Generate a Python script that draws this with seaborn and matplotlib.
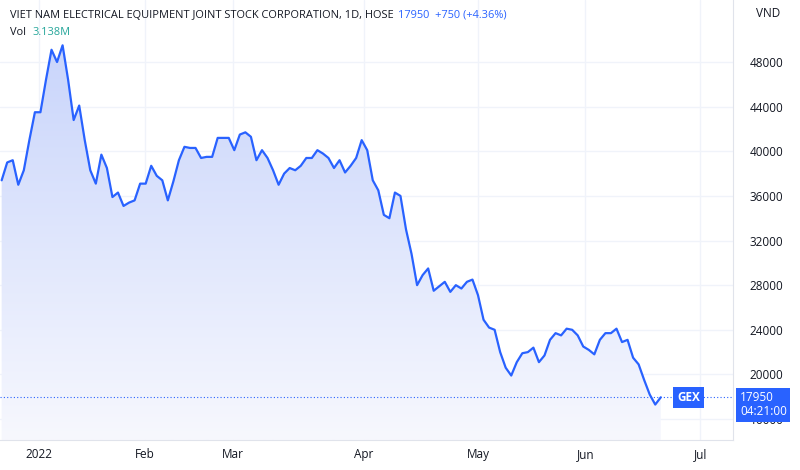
import numpy as np
import pandas as pd
import matplotlib
matplotlib.use("Agg")
import matplotlib.pyplot as plt
import seaborn as sns
from matplotlib.patches import Polygon

prices = [37400, 39000, 39200, 37000, 38300, 41000, 43500, 43500, 46400, 49100, 48000, 49500,
          46400, 42800, 44100, 41000, 38300, 37100, 39700, 38500, 35900, 36300, 35100, 35400,
          35600, 37100, 37100, 38700, 37800, 37400, 35600, 37300, 39200, 40400, 40300, 40300,
          39400, 39500, 39500, 41200, 41200, 41200, 40100, 41500, 41700, 41300, 39200, 40100,
          39400, 38300, 37000, 38000, 38500, 38300, 38700, 39400, 39400, 40100, 39800, 39400,
          38500, 39200, 38100, 38700, 39400, 41000, 40100, 37400, 36500, 34300, 34000, 36300,
          36000, 33000, 30800, 28000, 28900, 29500, 27500, 27900, 28300, 27400, 28000, 27700,
          28300, 28500, 27100, 24900, 24200, 24000, 22000, 20600, 19900, 21100, 21900, 22000,
          22400, 21100, 21700, 23100, 23700, 23500, 24100, 24000, 23500, 22500, 22200, 21800,
          23100, 23700, 23700, 24100, 22900, 23100, 21500, 20900, 19500, 18200, 17300, 17950]
tick_pos = [6.7, 25.8, 41.8, 65.4, 86, 105.4, 126.1]
tick_labels = ["2022", "Feb", "Mar", "Apr", "May", "Jun", "Jul"]
yticks = [16000, 20000, 24000, 28000, 32000, 36000, 40000, 44000, 48000]

df = pd.DataFrame({"i": np.arange(len(prices)), "p": prices})
sns.set_style("white")
plt.rcParams['font.family'] = ['Open Sans', 'DejaVu Sans']

fig = plt.figure(figsize=(8, 4.7), dpi=100)
ax = fig.add_axes([0.0, 0.064, 0.916, 0.936])
ymin, ymax = 14130, 53560
xmax = 132
ax.set_xlim(-0.3, xmax)
ax.set_ylim(ymin, ymax)

blue = "#2962ff"
grad = np.linspace(0.0, 1.0, 256).reshape(-1, 1)
cmap = matplotlib.colors.LinearSegmentedColormap.from_list("g", ["#f7f8fe", "#c9d5fb"])
im = ax.imshow(grad, aspect="auto", cmap=cmap, origin="lower",
               extent=[-0.3, xmax, ymin, max(prices)], zorder=1)
verts = [(0, ymin)] + list(zip(df.i, df.p)) + [(df.i.iloc[-1], ymin)]
poly = Polygon(verts, closed=True, transform=ax.transData, facecolor="none", edgecolor="none")
ax.add_patch(poly)
im.set_clip_path(poly)

sns.lineplot(data=df, x="i", y="p", color=blue, linewidth=1.6, ax=ax, zorder=3)
ax.axhline(prices[-1], color=blue, lw=0.8, ls=(0, (1, 2)), zorder=2)

ax.set_xticks(tick_pos)
ax.set_xticklabels(tick_labels)
ax.set_yticks(yticks)
ax.set_yticklabels([str(v) for v in yticks])
ax.yaxis.tick_right()
ax.tick_params(axis="both", length=0, labelsize=8.5, colors="#131722", pad=6)
ax.tick_params(axis="y", pad=12)
ax.grid(True, color="#f0f3fa", lw=1)
ax.set_xlabel(""); ax.set_ylabel("")
for s in ax.spines.values():
    s.set_visible(False)
ax.spines["bottom"].set_visible(True); ax.spines["bottom"].set_color("#e0e3eb")
ax.spines["right"].set_visible(True); ax.spines["right"].set_color("#e0e3eb")

fig.text(0.012, 0.962, "VIET NAM ELECTRICAL EQUIPMENT JOINT STOCK CORPORATION, 1D, HOSE",
         fontsize=7.9, color="#131722")
fig.text(0.498, 0.962, "17950  +750 (+4.36%)", fontsize=7.9, color=blue)
fig.text(0.012, 0.925, "Vol", fontsize=7.9, color="#131722")
fig.text(0.041, 0.925, "3.138M", fontsize=7.9, color="#26a69a")
fig.text(0.945, 0.963, "VND", fontsize=8.5, color="#131722")

ytxt = prices[-1]
ax.text(0.955, ytxt, "GEX", transform=ax.get_yaxis_transform(), ha="right", va="center",
        fontsize=8.5, color="white", fontweight="bold",
        bbox=dict(boxstyle="square,pad=0.35", fc=blue, ec="none"), zorder=5)
yfig = ax.transData.transform((0, ytxt))[1] / fig.bbox.height
fig.text(0.925, yfig - 0.016, "17950\n04:21:00", ha="left", va="center",
         fontsize=8.5, color="white", linespacing=1.1, zorder=10,
         bbox=dict(boxstyle="square,pad=0.3", fc=blue, ec="none"))

fig.savefig("out.png", dpi=100)
